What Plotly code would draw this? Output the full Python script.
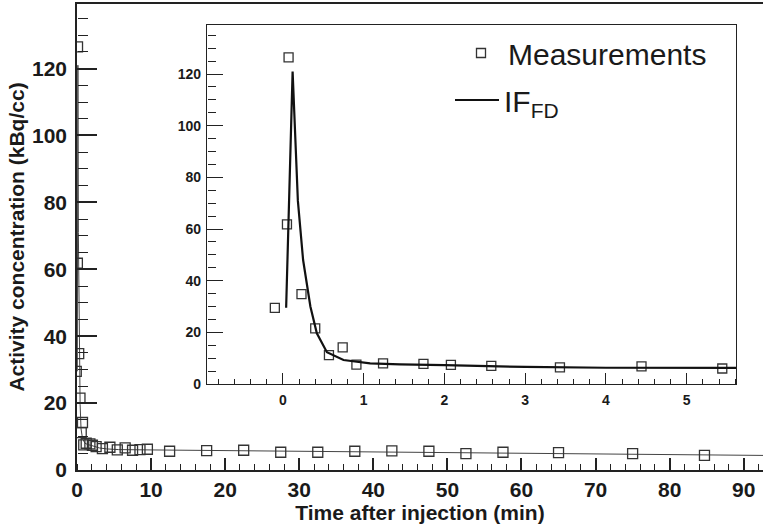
import plotly.graph_objects as go

# Measurements (time in min, activity in kBq/cc)
meas_t = [-0.10, 0.05, 0.07, 0.23, 0.40, 0.57, 0.74, 0.91, 1.24, 1.74, 2.08, 2.58, 3.43, 4.44, 5.44,
          6.5, 7.5, 8.5, 9.5, 12.5, 17.5, 22.5, 27.5, 32.5, 37.5, 42.5, 47.5, 52.5, 57.5, 65.0, 75.0, 84.7]
meas_y = [29.5, 61.8, 126.5, 34.8, 21.5, 11.2, 14.2, 7.5, 8.0, 7.8, 7.4, 7.0, 6.4, 6.8, 6.0,
          6.6, 5.9, 6.1, 6.2, 5.6, 5.8, 5.9, 5.3, 5.3, 5.6, 5.7, 5.6, 4.9, 5.3, 5.2, 4.9, 4.4]

# IF_FD fitted input function
fit_t = [0.04, 0.12, 0.185, 0.25, 0.34, 0.42, 0.545, 0.75, 1.08, 1.45, 2.0, 2.32, 3.0, 4.0, 5.0, 5.6,
         10, 20, 30, 40, 50, 60, 70, 80, 90, 93]
fit_y = [29.5, 121, 71, 48, 30, 19.6, 12.3, 9.3, 8.0, 7.6, 7.3, 7.0, 6.6, 6.3, 6.2, 6.1,
         6.0, 5.8, 5.6, 5.4, 5.2, 5.0, 4.8, 4.6, 4.4, 4.35]

main_xrange = [0, 92.6]
main_yrange = [0, 139.3]
inset_xrange = [-0.94, 5.61]
inset_yrange = [0, 139]

FONT = "Liberation Sans, Arial, sans-serif"
AX = "#222222"
TXT = "#1a1a1a"

fig = go.Figure()

# main panel
fig.add_trace(go.Scatter(x=fit_t, y=fit_y, mode="lines", line=dict(color="#444444", width=1),
                         xaxis="x", yaxis="y", showlegend=False))
fig.add_trace(go.Scatter(x=meas_t, y=meas_y, mode="markers",
                         marker=dict(symbol="square-open", size=10, color="#333333", line=dict(width=1.3)),
                         xaxis="x", yaxis="y", showlegend=False))

# inset panel
fig.add_trace(go.Scatter(x=meas_t, y=meas_y, mode="markers", name="Measurements",
                         marker=dict(symbol="square-open", size=9, color="#333333", line=dict(width=1.3)),
                         xaxis="x2", yaxis="y2", legend="legend"))
fig.add_trace(go.Scatter(x=fit_t, y=fit_y, mode="lines", name="IF<sub>FD</sub>",
                         line=dict(color="#111111", width=2.2),
                         xaxis="x2", yaxis="y2", legend="legend2"))

# empty traces that only activate the overlay axes carrying the minor ticks
for xa, ya in [("x3", "y"), ("x", "y3"), ("x4", "y2"), ("x2", "y4")]:
    fig.add_trace(go.Scatter(x=[], y=[], xaxis=xa, yaxis=ya, showlegend=False, hoverinfo="skip"))

W, H = 763, 531
L, R, T, B = 77, 0, 4, 61
pw, ph = W - L - R, H - T - B

def px_x(p):
    return (p - L) / pw

def px_y(p):
    return (H - B - p) / ph

ix0, ix1 = px_x(207), px_x(736)
iy0, iy1 = px_y(384), px_y(25)

main_tick = dict(family=FONT, size=21, color=TXT, weight="bold")
inset_tick = dict(family=FONT, size=14, color=TXT, weight="bold")

def major_axis(rng, dtick, tl, tw, lw, **kw):
    d = dict(range=rng, showgrid=False, zeroline=False, automargin=False,
             showline=True, linecolor=AX, linewidth=lw,
             ticks="inside", ticklen=tl, tickwidth=tw, tickcolor=AX, dtick=dtick, tick0=0)
    d.update(kw)
    return d

def minor_axis(rng, dtick, tl, tw, **kw):
    d = dict(range=rng, showgrid=False, zeroline=False, automargin=False,
             showline=False, showticklabels=False,
             ticks="outside", ticklen=tl, tickwidth=tw, tickcolor=AX, dtick=dtick, tick0=0)
    d.update(kw)
    return d

fig.update_layout(
    template="none",
    width=W, height=H,
    margin=dict(l=L, r=R, t=T, b=B, autoexpand=False),
    paper_bgcolor="white", plot_bgcolor="rgba(0,0,0,0)",
    xaxis=major_axis(main_xrange, 10, 12, 1.5, 1.6, domain=[0, 1], mirror=True,
                     tickfont=main_tick, ticklabelstandoff=0,
                     title=dict(text="Time after injection (min)", standoff=2,
                                font=dict(family=FONT, size=21, color=TXT, weight="bold"))),
    yaxis=major_axis(main_yrange, 20, 20, 1.5, 1.6, domain=[0, 1], mirror=False,
                     tickfont=main_tick, ticklabelstandoff=4,
                     title=dict(text="Activity concentration (kBq/cc)", standoff=2,
                                font=dict(family=FONT, size=21, color=TXT, weight="bold"))),
    xaxis3=minor_axis(main_xrange, 2, 6, 1.3, overlaying="x", side="top", anchor="free", position=0),
    yaxis3=minor_axis(main_yrange, 5, 10, 1.3, overlaying="y", side="right", anchor="free", position=0),
    xaxis2=major_axis(inset_xrange, 1, 11, 1.3, 1.4, domain=[ix0, ix1], anchor="y2", mirror=True,
                      tickfont=inset_tick, ticklabelstandoff=3),
    yaxis2=major_axis(inset_yrange, 20, 16, 1.3, 1.4, domain=[iy0, iy1], anchor="x2", mirror=True,
                      tickfont=inset_tick, ticklabelstandoff=2),
    xaxis4=minor_axis(inset_xrange, 0.2, 5, 1.1, overlaying="x2", side="top", anchor="free", position=iy0),
    yaxis4=minor_axis(inset_yrange, 5, 8, 1.1, overlaying="y2", side="right", anchor="free", position=ix0),
    legend=dict(x=px_x(454), y=px_y(27), xanchor="left", yanchor="top", itemwidth=44,
                bgcolor="rgba(0,0,0,0)", borderwidth=0,
                font=dict(family=FONT, size=30, color=TXT)),
    legend2=dict(x=px_x(450), y=px_y(74), xanchor="left", yanchor="top", itemwidth=44,
                 bgcolor="rgba(0,0,0,0)", borderwidth=0,
                 font=dict(family=FONT, size=30, color=TXT)),
)

fig.write_html("out.html", config={"displayModeBar": False},
               post_script="document.body.style.margin='0';")
